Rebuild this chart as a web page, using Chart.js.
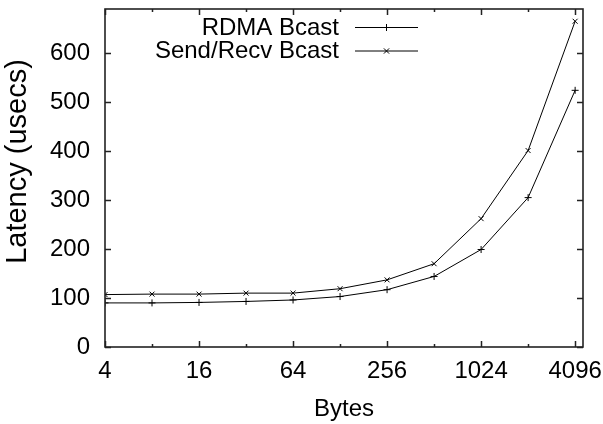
<!DOCTYPE html>
<html><head><meta charset="utf-8">
<script src="https://cdn.jsdelivr.net/npm/chart.js@4/dist/chart.umd.min.js"></script>
<style>html,body{margin:0;padding:0;background:#fff}#wrap{width:603px;height:424px}</style>
</head><body><div id="wrap"><canvas id="c" width="603" height="424"></canvas></div>
<script>
const bytes = [4, 8, 16, 32, 64, 128, 256, 512, 1024, 2048, 4096];
const rdmaBcast = [90, 90, 91, 93, 96, 103, 117, 144, 199, 305, 524];
const sendRecvBcast = [107, 108, 108, 110, 110, 119, 137, 170, 262, 401, 665];
const xTickLabels = [4, 16, 64, 256, 1024, 4096];
const yTickValues = [0, 100, 200, 300, 400, 500, 600];
const seriesNames = ['RDMA Bcast', 'Send/Recv Bcast'];
const xTitle = 'Bytes';
const yTitle = 'Latency (usecs)';

const FONT = '"Liberation Sans", Arial, Helvetica, sans-serif';

function noPad(s) { s.paddingTop = 0; s.paddingBottom = 0; s.paddingLeft = 0; s.paddingRight = 0; }

const framePlugin = {
  id: 'frame',
  afterDatasetsDraw(chart) {
    const ctx = chart.ctx, a = chart.chartArea;
    const xs = chart.scales.x, ys = chart.scales.y;
    ctx.save();
    ctx.strokeStyle = '#222';
    ctx.lineWidth = 1.5;
    ctx.beginPath();
    yTickValues.forEach(v => {
      const py = Math.round(ys.getPixelForValue(v)) + 0.5;
      ctx.moveTo(a.left, py); ctx.lineTo(a.left + 6, py);
      ctx.moveTo(a.right, py); ctx.lineTo(a.right - 6, py);
    });
    bytes.forEach(v => {
      const px = Math.round(xs.getPixelForValue(v)) + 0.5;
      const len = xTickLabels.includes(v) ? 6 : 3;
      ctx.moveTo(px, a.bottom); ctx.lineTo(px, a.bottom - len);
      ctx.moveTo(px, a.top); ctx.lineTo(px, a.top + len);
    });
    ctx.stroke();
    ctx.lineWidth = 1.6;
    ctx.strokeRect(a.left, a.top, a.right - a.left, a.bottom - a.top);

    ctx.fillStyle = '#000';
    ctx.font = '29px ' + FONT;
    ctx.textAlign = 'center';
    ctx.textBaseline = 'alphabetic';
    ctx.translate(26, 161.5);
    ctx.rotate(-Math.PI / 2);
    ctx.fillText(yTitle, 0, 0);
    ctx.restore();

    ctx.save();
    ctx.font = '24px ' + FONT;
    ctx.fillStyle = '#000';
    ctx.textAlign = 'right';
    ctx.textBaseline = 'middle';
    chart.data.datasets.forEach((ds, i) => {
      const cy = 27 + i * 23.5;
      ctx.fillText(ds.label, 339, cy + 1);
      ctx.strokeStyle = ds.borderColor;
      ctx.lineWidth = 1;
      ctx.beginPath();
      ctx.moveTo(355, cy + 0.5); ctx.lineTo(418, cy + 0.5);
      ctx.stroke();
      ctx.beginPath();
      const r = 3.5, mx = 386.5, my = cy + 0.5;
      if (ds.pointStyle === 'cross') {
        ctx.moveTo(mx - r, my); ctx.lineTo(mx + r, my);
        ctx.moveTo(mx, my - r); ctx.lineTo(mx, my + r);
      } else {
        const d = r * 0.75;
        ctx.moveTo(mx - d, my - d); ctx.lineTo(mx + d, my + d);
        ctx.moveTo(mx - d, my + d); ctx.lineTo(mx + d, my - d);
      }
      ctx.stroke();
    });
    ctx.restore();
  }
};

new Chart(document.getElementById('c'), {
  type: 'line',
  data: {
    datasets: [
      {
        label: seriesNames[0],
        data: bytes.map((b, i) => ({ x: b, y: rdmaBcast[i] })),
        borderColor: '#000', borderWidth: 1, backgroundColor: '#000',
        pointStyle: 'cross', pointRadius: 3.5, pointBorderColor: '#000', pointBorderWidth: 1,
        fill: false, tension: 0
      },
      {
        label: seriesNames[1],
        data: bytes.map((b, i) => ({ x: b, y: sendRecvBcast[i] })),
        borderColor: '#000', borderWidth: 1, backgroundColor: '#000',
        pointStyle: 'crossRot', pointRadius: 3.5, pointBorderColor: '#000', pointBorderWidth: 1,
        fill: false, tension: 0
      }
    ]
  },
  options: {
    responsive: false,
    animation: false,
    devicePixelRatio: 1,
    layout: { padding: { left: 0, right: 20, top: 9, bottom: 0 } },
    plugins: { legend: { display: false }, tooltip: { enabled: false } },
    scales: {
      x: {
        type: 'logarithmic',
        min: 4, max: 4600,
        grid: { display: false, drawTicks: false },
        border: { display: false },
        afterBuildTicks: s => { s.ticks = xTickLabels.map(v => ({ value: v })); },
        afterFit: s => { s.height = 77; noPad(s); },
        ticks: {
          autoSkip: false, maxRotation: 0, padding: 10, color: '#000',
          font: { family: FONT, size: 24 },
          callback: v => String(v)
        },
        title: { display: true, text: xTitle, color: '#000', font: { family: FONT, size: 24, lineHeight: 1.2 }, padding: { top: 0, bottom: 0 } }
      },
      y: {
        type: 'linear',
        min: 0, max: 690,
        grid: { display: false, drawTicks: false },
        border: { display: false },
        afterBuildTicks: s => { s.ticks = yTickValues.map(v => ({ value: v })); },
        afterFit: s => { s.width = 105; noPad(s); },
        ticks: {
          padding: 15, color: '#000',
          font: { family: FONT, size: 24 },
          callback: v => String(v)
        }
      }
    }
  },
  plugins: [framePlugin]
});
</script>
</body></html>
